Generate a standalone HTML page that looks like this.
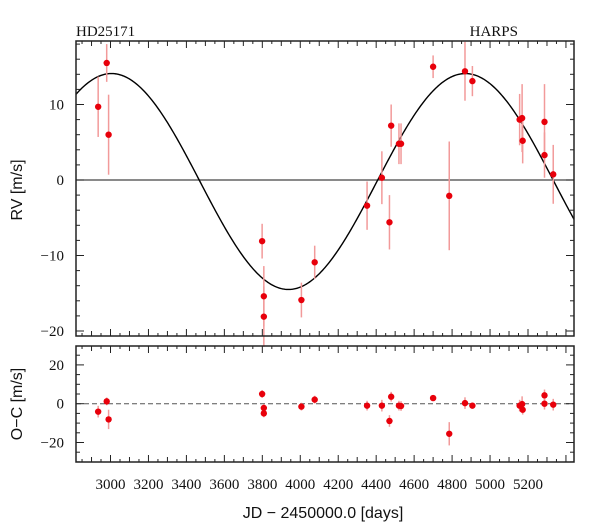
<!DOCTYPE html>
<html><head><meta charset="utf-8"><style>
html,body{margin:0;padding:0;background:#fff;width:600px;height:529px;overflow:hidden}
svg{display:block}
.tl{font-family:"Liberation Serif",serif;font-size:15px;fill:#111}
.at{font-family:"Liberation Sans",sans-serif;font-size:16px;fill:#111}
</style></head><body>
<svg id="chart" width="600" height="529" viewBox="0 0 600 529">
<g id="g"></g>
</svg>
<script>
const days=[2935,2980,2990,3799,3808,3808,4006,4076,4352,4430,4470,4479,4520,4531,4700,4785,4868,4907,5156,5169,5172,5287,5287,5333];
const rv=[9.7,15.5,6.0,-8.1,-15.4,-18.1,-15.9,-10.9,-3.4,0.3,-5.6,7.2,4.8,4.8,15.0,-2.1,14.4,13.1,8.0,8.2,5.2,7.7,3.3,0.75];
const rvErr=[4,2.5,5.3,2.3,4,4,2.3,2.2,3.2,3.5,3.6,2.8,2.7,2.7,1.5,7.2,3.9,2,3.4,4.5,3,5,3,3.9];
const resid=[-4.1,1.2,-8.1,5,-2.2,-5,-1.5,2.1,-1,-1,-8.9,3.6,-1,-1.2,2.9,-15.5,0.3,-1,-1,-0.2,-3.1,4.3,0,-0.5];
const residErr=[3,2,5,2,2,2,2,2,2.5,3,3,2.5,2.5,2.5,1.5,6,3,1.5,3,4,2.5,3,3,3];
const xTicks=[3000,3200,3400,3600,3800,4000,4200,4400,4600,4800,5000,5200];
const rvTicks=[10,0,-10,-20];
const ocTicks=[20,0,-20];
const period=1865, tAsc=4404, amp=14.3, vOff=-0.2;

const NS="http://www.w3.org/2000/svg";
const g=document.getElementById('g');
const L=76,R=574,T1=41,B1=336,T2=346,B2=462;
const X=d=>110.5+(d-3000)*0.18977;
const Y1=v=>180-7.55*v;
const Y2=v=>403.7-1.94*v;
const dMin=3000+(L-110.5)/0.18977, dMax=3000+(R-110.5)/0.18977;
function mk(tag,attrs,parent){const e=document.createElementNS(NS,tag);for(const k in attrs)e.setAttribute(k,attrs[k]);(parent||g).appendChild(e);return e;}

let z=mk('line',{x1:L,x2:R,y1:Y1(0),y2:Y1(0),stroke:'#444','stroke-width':1.3});


z=mk('line',{x1:L,x2:R,y1:Y2(0),y2:Y2(0),stroke:'#555','stroke-width':1,'stroke-dasharray':'5,3'});



let pts=[];
for(let i=0;i<=400;i++){const d=dMin+(dMax-dMin)*i/400;const v=vOff+amp*Math.sin(2*Math.PI*(d-tAsc)/period);pts.push(X(d).toFixed(2)+','+Y1(v).toFixed(2));}
const cv=mk('polyline',{points:pts.join(' '),fill:'none',stroke:'#000','stroke-width':1.4});



function drawPts(vals,errs,Y,name){
  vals.forEach((v,i)=>{
    const x=X(days[i]);
    const e=mk('line',{x1:x,x2:x,y1:Y(v+errs[i]),y2:Y(v-errs[i]),stroke:'#f29a9a','stroke-width':1.5});
    
    
  });
  vals.forEach((v,i)=>{
    const c=mk('circle',{cx:X(days[i]),cy:Y(v),r:3.2,fill:'#e8000b'});
    
    
  });
}
drawPts(rv,rvErr,Y1,'rv');
drawPts(resid,residErr,Y2,'residual');

let f=mk('rect',{x:L,y:T1,width:R-L,height:B1-T1,fill:'none',stroke:'#222','stroke-width':1.5});


f=mk('rect',{x:L,y:T2,width:R-L,height:B2-T2,fill:'none',stroke:'#222','stroke-width':1.5});



function tk(x1,y1,x2,y2){const t=mk('line',{x1,y1,x2,y2,stroke:'#222','stroke-width':1});}
for(let d=2850;d<=dMax;d+=50){
  const x=X(d);if(x<L||x>R)continue;
  const len=d%200===0?7:(d%100===0?5:3);
  tk(x,B1,x,B1-len);tk(x,T1,x,T1+len);tk(x,B2,x,B2-len);tk(x,T2,x,T2+len);
}
for(let v=-20;v<=18;v+=2){const y=Y1(v);const len=v%10===0?8:4;tk(L,y,L+len,y);tk(R,y,R-len,y);}
for(let v=-30;v<=30;v+=5){const y=Y2(v);if(y<T2||y>B2)continue;const len=v%20===0?8:4;tk(L,y,L+len,y);tk(R,y,R-len,y);}

function txt(s,x,y,cls,anchor,name){const t=mk('text',{x,y,'class':cls,'text-anchor':anchor});t.textContent=s;return t;}
xTicks.forEach(d=>txt(String(d),X(d),489,'tl','middle','x-tick-label'));
rvTicks.forEach(v=>txt(String(v).replace('-','\u2212'),64,Y1(v)+5,'tl','end','rv-tick-label'));
ocTicks.forEach(v=>txt(String(v).replace('-','\u2212'),64,Y2(v)+5,'tl','end','oc-tick-label'));
txt('HD25171',76,36,'tl','start','star-name-label').setAttribute('font-size','16');
txt('HARPS',518,36,'tl','end','instrument-label').setAttribute('font-size','16');
txt('JD \u2212 2450000.0 [days]',323,518,'at','middle','x-axis-title');
let yt=txt('RV [m/s]',0,0,'at','middle','rv-axis-title');yt.setAttribute('transform','translate(22,190) rotate(-90)');
yt=txt('O\u2212C [m/s]',0,0,'at','middle','oc-axis-title');yt.setAttribute('transform','translate(22,404) rotate(-90)');
</script>
</body></html>
